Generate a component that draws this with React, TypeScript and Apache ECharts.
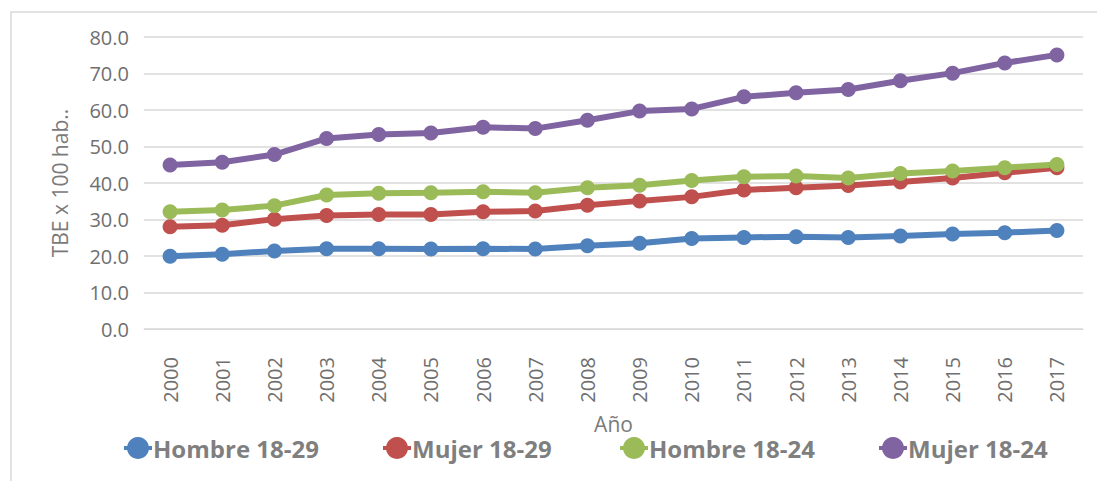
import React, { useEffect, useRef } from "react";
import * as echarts from "echarts";

const years = ["2000","2001","2002","2003","2004","2005","2006","2007","2008","2009","2010","2011","2012","2013","2014","2015","2016","2017"];
const hombre1829 = [19.9, 20.5, 21.4, 22.0, 22.0, 21.9, 22.0, 21.9, 22.8, 23.5, 24.8, 25.1, 25.3, 25.1, 25.5, 26.0, 26.4, 27.0];
const mujer1829 = [28.0, 28.4, 30.1, 31.1, 31.4, 31.4, 32.1, 32.3, 33.9, 35.1, 36.2, 38.1, 38.7, 39.3, 40.3, 41.4, 42.8, 44.2];
const hombre1824 = [32.1, 32.6, 33.8, 36.7, 37.2, 37.3, 37.6, 37.3, 38.7, 39.4, 40.7, 41.7, 41.9, 41.4, 42.6, 43.3, 44.2, 45.1];
const mujer1824 = [44.9, 45.7, 47.8, 52.2, 53.3, 53.7, 55.3, 54.9, 57.2, 59.7, 60.3, 63.6, 64.7, 65.6, 68.0, 70.1, 72.9, 75.1];

const seriesNames = ["Hombre 18-29", "Mujer 18-29", "Hombre 18-24", "Mujer 18-24"];
const seriesData = [hombre1829, mujer1829, hombre1824, mujer1824];
const colors = ["#4f81bd", "#c0504d", "#9bbb59", "#8064a2"];
const legendLefts = [119, 378, 615, 874];

const legendIcon = "path://M0 9 L28 9 L28 13 L0 13 Z M14 0 A11 11 0 1 1 13.99 0 Z";

export default function App() {
  const ref = useRef<HTMLDivElement>(null);
  useEffect(() => {
    if (!ref.current) return;
    const chart = echarts.init(ref.current, null, { renderer: "svg" });
    const font = "'Open Sans', 'Noto Sans', sans-serif";
    chart.setOption({
      animation: false,
      backgroundColor: "#ffffff",
      textStyle: { fontFamily: font },
      graphic: [
        {
          type: "rect",
          shape: { x: 11, y: 12, width: 1200, height: 600 },
          style: { fill: "none", stroke: "#d9d9d9", lineWidth: 1.5 },
          silent: true,
        },
      ],
      grid: { left: 144, right: 14, top: 37, bottom: 152, containLabel: false },
      legend: seriesNames.map((n, i) => ({
        data: [n],
        left: legendLefts[i],
        top: 431,
        icon: legendIcon,
        itemWidth: 28,
        itemHeight: 22,
        textStyle: { fontFamily: font, fontSize: 24, fontWeight: "bold", color: "#7f7f7f", padding: [0, 0, 0, -4] },
      })),
      xAxis: {
        type: "category",
        data: years,
        boundaryGap: true,
        name: "Año",
        nameLocation: "middle",
        nameGap: 84,
        nameTextStyle: { fontFamily: font, fontSize: 21, color: "#7a7a7a" },
        axisLine: { show: true, lineStyle: { color: "#d9d9d9", width: 1 } },
        axisTick: { show: false },
        axisLabel: { rotate: 90, margin: 28, fontSize: 20, color: "#6f6f6f", fontFamily: font },
      },
      yAxis: {
        type: "value",
        min: 0,
        max: 80,
        interval: 10,
        name: "TBE x 100 hab..",
        nameLocation: "middle",
        nameGap: 74,
        nameTextStyle: { fontFamily: font, fontSize: 21, color: "#7a7a7a" },
        axisLine: { show: false },
        axisTick: { show: false },
        axisLabel: { margin: 15, fontSize: 20, color: "#6f6f6f", fontFamily: font, formatter: (v: number) => v.toFixed(1) },
        splitLine: { lineStyle: { color: "#d9d9d9", width: 1.5 } },
      },
      series: seriesNames.map((n, i) => ({
        name: n,
        type: "line",
        data: seriesData[i],
        symbol: "circle",
        symbolSize: 15,
        itemStyle: { color: colors[i] },
        lineStyle: { color: colors[i], width: 6 },
      })),
    });
    return () => chart.dispose();
  }, []);
  return <div ref={ref} style={{ position: "fixed", left: 0, top: 0, width: 1097, height: 481 }} />;
}
